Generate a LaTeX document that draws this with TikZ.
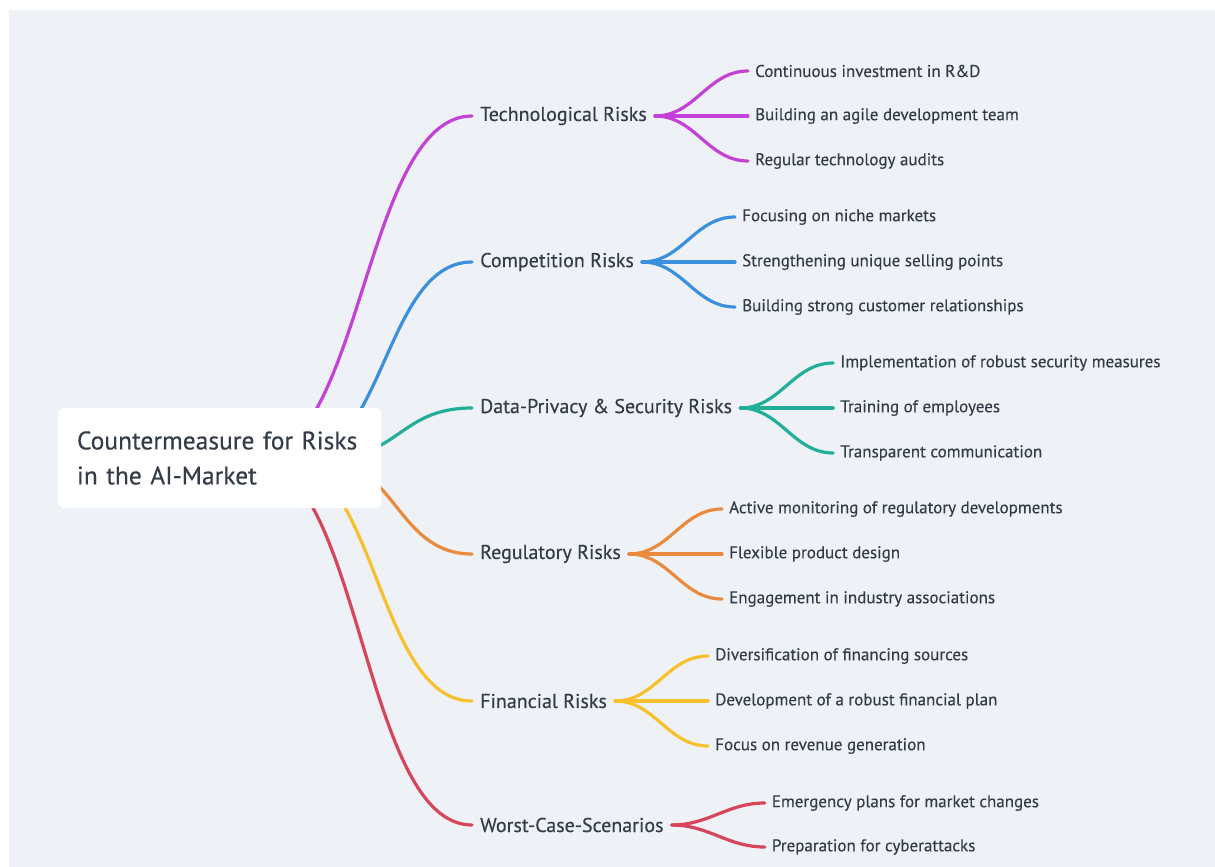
\documentclass[tikz,border=0pt]{standalone}
\usepackage{fontspec}
\setmainfont{PT Sans}
\newfontfamily\medfont[FakeBold=0.35]{PT Sans}
\usepackage{xcolor}
\usetikzlibrary{positioning}
\definecolor{bgcol}{HTML}{EEF2F6}
\definecolor{txtcol}{HTML}{343C48}
\definecolor{cTech}{HTML}{C341D6}
\definecolor{cComp}{HTML}{3B8FDF}
\definecolor{cData}{HTML}{22AE98}
\definecolor{cReg}{HTML}{E98A3C}
\definecolor{cFin}{HTML}{F6C12C}
\definecolor{cWorst}{HTML}{D6455A}
\pgfdeclarelayer{back}
\pgfsetlayers{back,main}
\tikzset{
  rootbox/.style={fill=white, rounded corners=6pt, text=txtcol,
    font=\medfont\fontsize{25.5}{35}\selectfont, align=left, text width=285pt,
    inner xsep=19pt, minimum height=100pt},
  topic/.style={text=txtcol, font=\medfont\fontsize{20}{22}\selectfont,
    inner xsep=8pt, inner ysep=2pt, anchor=west},
  leaf/.style={text=txtcol, font=\medfont\fontsize{17}{20}\selectfont,
    inner xsep=7pt, inner ysep=2pt, anchor=west},
  link/.style={line width=3.2pt, line cap=round},
}

\begin{document}
\begin{tikzpicture}[x=1pt, y=-1pt]
\useasboundingbox (0,0) rectangle (1215,867);

\node[rootbox] (root) at (219.5,458) {Countermeasure for Risks\\in the AI-Market};

% main topics
\node[topic] (tech) at (472,116) {Technological Risks};
\node[topic] (comp) at (472,262) {Competition Risks};
\node[topic] (data) at (472,408) {Data-Privacy \& Security Risks};
\node[topic] (reg) at (472,554) {Regulatory Risks};
\node[topic] (fin) at (472,701) {Financial Risks};
\node[topic] (worst) at (472,825) {Worst-Case-Scenarios};

% sub topics
\node[leaf, right=93pt of tech] (tech2) {Building an agile development team};
\node[leaf] (tech1) at ([yshift=45pt]tech2.west) {Continuous investment in R\&D};
\node[leaf] (tech3) at ([yshift=-45pt]tech2.west) {Regular technology audits};

\node[leaf, right=93pt of comp] (comp2) {Strengthening unique selling points};
\node[leaf] (comp1) at ([yshift=45pt]comp2.west) {Focusing on niche markets};
\node[leaf] (comp3) at ([yshift=-45pt]comp2.west) {Building strong customer relationships};

\node[leaf, right=93pt of data] (data2) {Training of employees};
\node[leaf] (data1) at ([yshift=45pt]data2.west) {Implementation of robust security measures};
\node[leaf] (data3) at ([yshift=-45pt]data2.west) {Transparent communication};

\node[leaf, right=93pt of reg] (reg2) {Flexible product design};
\node[leaf] (reg1) at ([yshift=45pt]reg2.west) {Active monitoring of regulatory developments};
\node[leaf] (reg3) at ([yshift=-45pt]reg2.west) {Engagement in industry associations};

\node[leaf, right=93pt of fin] (fin2) {Development of a robust financial plan};
\node[leaf] (fin1) at ([yshift=45pt]fin2.west) {Diversification of financing sources};
\node[leaf] (fin3) at ([yshift=-45pt]fin2.west) {Focus on revenue generation};

\coordinate[right=93pt of worst] (worstc);
\node[leaf] (worst1) at ([yshift=22pt]worstc) {Emergency plans for market changes};
\node[leaf] (worst2) at ([yshift=-22pt]worstc) {Preparation for cyberattacks};

\begin{pgfonlayer}{back}
\fill[white] (0,0) rectangle (1215,867);
\fill[bgcol] (9,10) rectangle (1215,867);
% branches behind the root box
\draw[link, cTech] ([xshift=35pt]root.center) .. controls +(108,0) and +(-108,0) .. (tech.west);
\draw[link, cComp] ([xshift=78pt]root.center) .. controls +(87,0) and +(-87,0) .. (comp.west);
\draw[link, cData] ([xshift=108pt]root.center) .. controls +(72,0) and +(-72,0) .. (data.west);
\draw[link, cReg] ([xshift=100pt]root.center) .. controls +(76,0) and +(-76,0) .. (reg.west);
\draw[link, cFin] ([xshift=62pt]root.center) .. controls +(95,0) and +(-95,0) .. (fin.west);
\draw[link, cWorst] ([xshift=32pt]root.center) .. controls +(110,0) and +(-110,0) .. (worst.west);
\end{pgfonlayer}

\draw[link, cTech] (tech.east) -- (tech2.west);
\draw[link, cTech] (tech.east) to[out=0, in=180] (tech1.west);
\draw[link, cTech] (tech.east) to[out=0, in=180] (tech3.west);

\draw[link, cComp] (comp.east) -- (comp2.west);
\draw[link, cComp] (comp.east) to[out=0, in=180] (comp1.west);
\draw[link, cComp] (comp.east) to[out=0, in=180] (comp3.west);

\draw[link, cData] (data.east) -- (data2.west);
\draw[link, cData] (data.east) to[out=0, in=180] (data1.west);
\draw[link, cData] (data.east) to[out=0, in=180] (data3.west);

\draw[link, cReg] (reg.east) -- (reg2.west);
\draw[link, cReg] (reg.east) to[out=0, in=180] (reg1.west);
\draw[link, cReg] (reg.east) to[out=0, in=180] (reg3.west);

\draw[link, cFin] (fin.east) -- (fin2.west);
\draw[link, cFin] (fin.east) to[out=0, in=180] (fin1.west);
\draw[link, cFin] (fin.east) to[out=0, in=180] (fin3.west);

\draw[link, cWorst] (worst.east) to[out=0, in=180] (worst1.west);
\draw[link, cWorst] (worst.east) to[out=0, in=180] (worst2.west);
\end{tikzpicture}
\end{document}
